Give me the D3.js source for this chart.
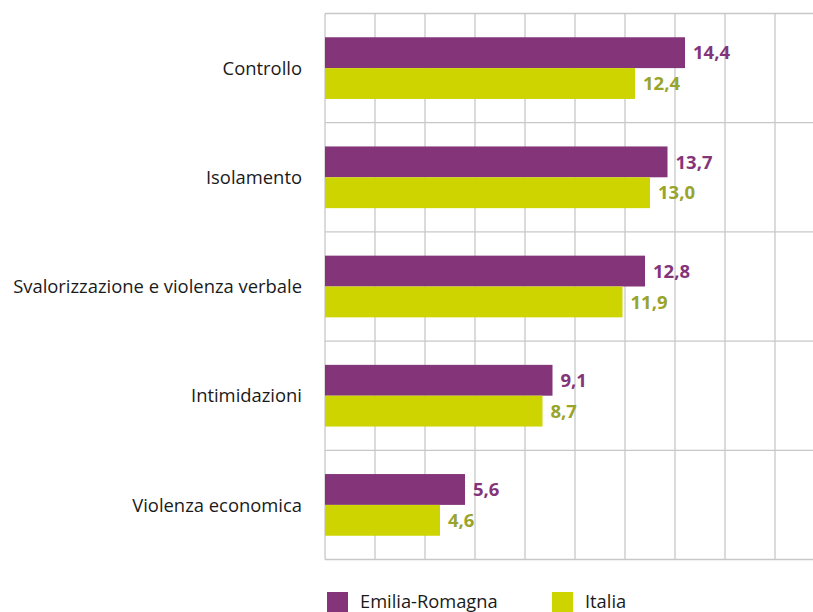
<!DOCTYPE html>
<html><head><meta charset="utf-8">
<script src="https://cdn.jsdelivr.net/npm/d3@7"></script>
<style>html,body{margin:0;padding:0;background:#fff;overflow:hidden}svg{display:block}</style>
</head><body><svg id="c" width="813" height="612"></svg>
<script>
const categories = ["Controllo","Isolamento","Svalorizzazione e violenza verbale","Intimidazioni","Violenza economica"];
const seriesNames = ["Emilia-Romagna","Italia"];
const emiliaRomagna = [14.4,13.7,12.8,9.1,5.6];
const italia = [12.4,13.0,11.9,8.7,4.6];
const xTicks = [0,2,4,6,8,10,12,14,16,18,20];
const colors = ["#84357a","#cdd400"];
const labelColors = ["#84357a","#98a42a"];
const seriesValues = [emiliaRomagna, italia];

const svg = d3.select("#c");
const x = d3.scaleLinear().domain([0,20]).range([325,825]);
const y = d3.scaleBand().domain(categories).range([13.5,559.5]).padding(0);
const ySub = d3.scaleBand().domain(seriesNames).range([0,y.bandwidth()]).paddingInner(0).paddingOuter(0.77);
const grid = "#c8c8c8";

svg.append("g").selectAll("line").data(xTicks).join("line")
  .attr("x1",d=>x(d)).attr("x2",d=>x(d)).attr("y1",y.range()[0]).attr("y2",y.range()[1])
  .attr("stroke",grid).attr("stroke-width",1.3);
const hLines = categories.map(c=>y(c)).concat([y.range()[1]]);
svg.append("g").selectAll("line").data(hLines).join("line")
  .attr("x1",x(0)).attr("x2",x(20)).attr("y1",d=>d).attr("y2",d=>d)
  .attr("stroke",grid).attr("stroke-width",1.3);

seriesNames.forEach((s,si)=>{
  const g = svg.append("g");
  g.selectAll("rect").data(categories).join("rect")
    .attr("x",x(0)).attr("y",c=>y(c)+ySub(s))
    .attr("width",(c,i)=>x(seriesValues[si][i])-x(0))
    .attr("height",ySub.bandwidth())
    .attr("fill",colors[si]);
  g.selectAll("text").data(categories).join("text")
    .attr("x",(c,i)=>x(seriesValues[si][i])+8)
    .attr("y",c=>y(c)+ySub(s)+ySub.bandwidth()/2)
    .attr("dy","0.36em")
    .attr("font-family","'Open Sans', sans-serif").attr("font-weight","bold").attr("font-size",18.5)
    .attr("fill",labelColors[si])
    .text((c,i)=>d3.format(".1f")(seriesValues[si][i]).replace(".",","));
});

svg.append("g").selectAll("text").data(categories).join("text")
  .attr("x",302).attr("y",c=>y(c)+y.bandwidth()/2)
  .attr("dy","0.36em").attr("text-anchor","end")
  .attr("font-family","'Open Sans', sans-serif").attr("font-size",18.4).attr("fill","#1a1a1a")
  .text(c=>c);

const legX = [327,552];
seriesNames.forEach((s,si)=>{
  svg.append("rect").attr("x",legX[si]).attr("y",592).attr("width",21).attr("height",21).attr("fill",colors[si]);
  svg.append("text").attr("x",legX[si]+33).attr("y",608)
    .attr("font-family","'Open Sans', sans-serif").attr("font-size",18.3).attr("fill","#1a1a1a").text(s);
});
</script></body></html>
